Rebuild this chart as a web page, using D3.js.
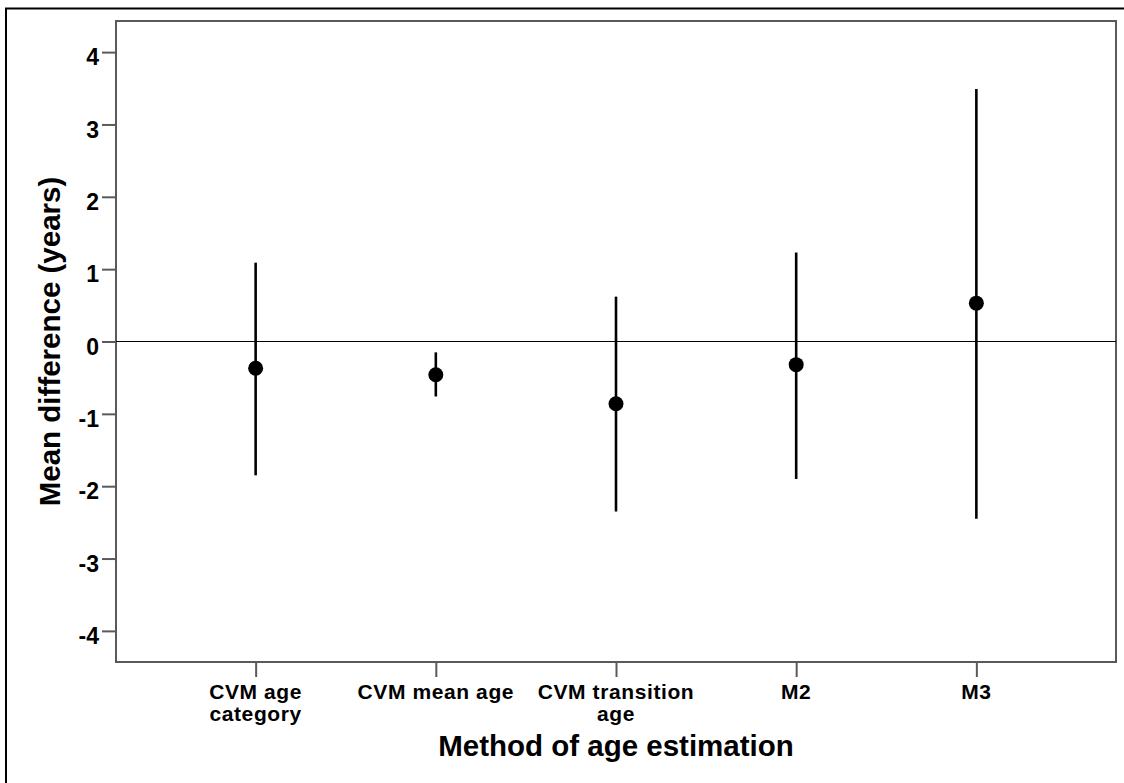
<!DOCTYPE html>
<html>
<head>
<meta charset="utf-8">
<script src="https://cdn.jsdelivr.net/npm/d3@7"></script>
<style>
  html, body { margin: 0; padding: 0; background: #fff; }
  svg { display: block; font-family: "Liberation Sans", Arial, sans-serif; }
</style>
</head>
<body>
<div id="chart"></div>
<script>
// error-bar chart: mean difference with interval per method
var categories = ["CVM age category", "CVM mean age", "CVM transition age", "M2", "M3"];
var categoryLines = [["CVM age", "category"], ["CVM mean age"], ["CVM transition", "age"], ["M2"], ["M3"]];
var means = [-0.37, -0.46, -0.86, -0.32, 0.53];
var lower = [-1.85, -0.76, -2.35, -1.90, -2.45];
var upper = [1.09, -0.15, 0.62, 1.23, 3.49];
var yTicks = [-4, -3, -2, -1, 0, 1, 2, 3, 4];

var width = 1124, height = 783;
var plot = {left: 116, top: 21, right: 1116, bottom: 662};

var svg = d3.select("#chart").append("svg")
	.attr("width", width)
	.attr("height", height);

// outer frame (only left and top edges fall inside the picture)
svg.append("rect")
	.attr("x", 6).attr("y", 8.5)
	.attr("width", width + 20).attr("height", height + 20)
	.attr("fill", "none")
	.attr("stroke", "#000")
	.attr("stroke-width", 2);

var x = d3.scalePoint()
	.domain(categories)
	.range([plot.left, plot.right])
	.padding(0.775);

var y = d3.scaleLinear()
	.domain([-4.43, 4.43])
	.range([plot.bottom, plot.top]);

// plot box
svg.append("rect")
	.attr("x", plot.left).attr("y", plot.top)
	.attr("width", plot.right - plot.left)
	.attr("height", plot.bottom - plot.top)
	.attr("fill", "none")
	.attr("stroke", "#5a5a5a")
	.attr("stroke-width", 2);

// y axis
var yAxis = svg.append("g")
	.attr("transform", "translate(" + plot.left + ",0)")
	.call(d3.axisLeft(y).tickValues(yTicks).tickSize(14).tickPadding(3)
		.tickFormat(function(d) { return String(d); }));
yAxis.select(".domain").remove();
yAxis.selectAll(".tick line").attr("stroke", "#5a5a5a").attr("stroke-width", 2);
yAxis.selectAll(".tick text")
	.attr("fill", "#000")
	.attr("font-size", "23px")
	.attr("font-weight", "bold")
	.attr("dy", "0.55em");

// x axis
var xAxis = svg.append("g")
	.attr("transform", "translate(0," + plot.bottom + ")")
	.call(d3.axisBottom(x).tickSize(15).tickFormat(""));
xAxis.select(".domain").remove();
xAxis.selectAll(".tick line").attr("stroke", "#5a5a5a").attr("stroke-width", 2);

categories.forEach(function(c, i) {
	var t = svg.append("text")
		.attr("x", x(c))
		.attr("y", 699)
		.attr("text-anchor", "middle")
		.attr("font-size", "21px")
		.attr("font-weight", "bold")
		.attr("letter-spacing", "0.6px")
		.attr("fill", "#000");
	categoryLines[i].forEach(function(line, j) {
		t.append("tspan")
			.attr("x", x(c))
			.attr("dy", j === 0 ? 0 : 22)
			.text(line);
	});
});

// zero reference line
svg.append("line")
	.attr("x1", plot.left).attr("x2", plot.right)
	.attr("y1", y(0)).attr("y2", y(0))
	.attr("stroke", "#000")
	.attr("stroke-width", 1.2);

// error bars and means
svg.selectAll("line.bar")
	.data(categories)
	.enter().append("line")
	.attr("class", "bar")
	.attr("x1", function(d) { return x(d); })
	.attr("x2", function(d) { return x(d); })
	.attr("y1", function(d, i) { return y(upper[i]); })
	.attr("y2", function(d, i) { return y(lower[i]); })
	.attr("stroke", "#000")
	.attr("stroke-width", 2.6);

svg.selectAll("circle.mean")
	.data(categories)
	.enter().append("circle")
	.attr("class", "mean")
	.attr("cx", function(d) { return x(d); })
	.attr("cy", function(d, i) { return y(means[i]); })
	.attr("r", 7.5)
	.attr("fill", "#000");

// axis titles
svg.append("text")
	.attr("transform", "translate(60," + ((plot.top + plot.bottom) / 2) + ") rotate(-90)")
	.attr("text-anchor", "middle")
	.attr("font-size", "29.5px")
	.attr("font-weight", "bold")
	.attr("fill", "#000")
	.text("Mean difference (years)");

svg.append("text")
	.attr("x", (plot.left + plot.right) / 2)
	.attr("y", 756)
	.attr("text-anchor", "middle")
	.attr("font-size", "29.5px")
	.attr("font-weight", "bold")
	.attr("fill", "#000")
	.text("Method of age estimation");
</script>
</body>
</html>
